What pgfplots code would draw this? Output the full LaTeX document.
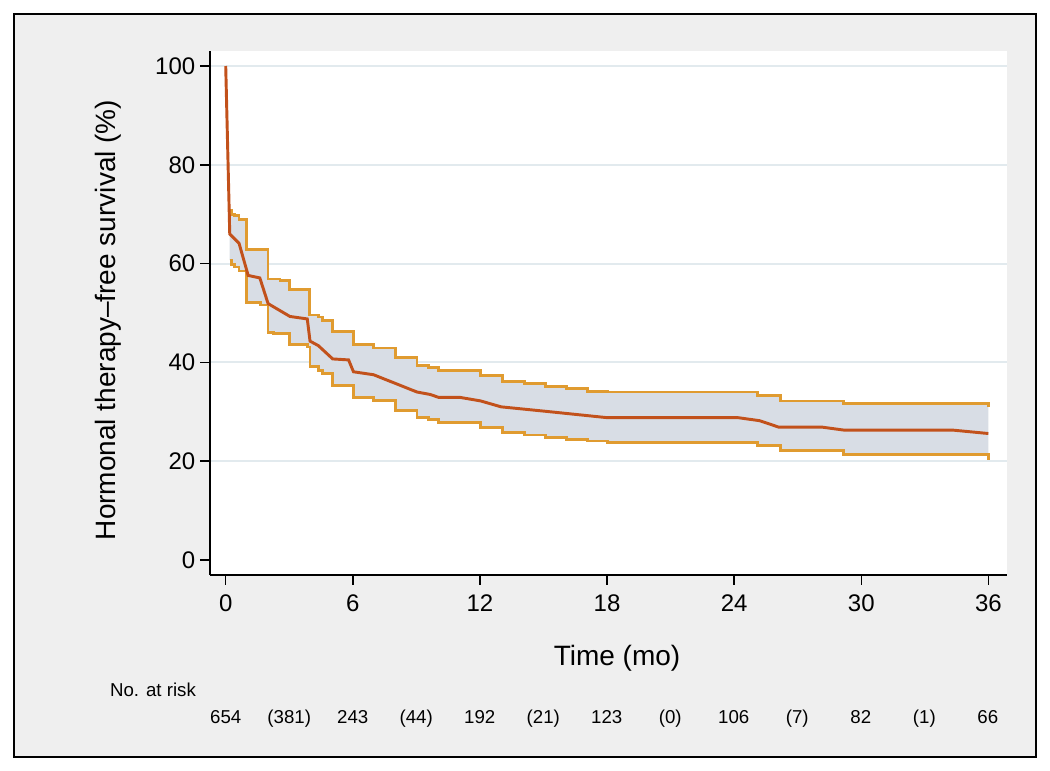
\documentclass[border=0pt]{standalone}
\usepackage{fontspec}
\setmainfont{Liberation Sans}
\usepackage{pgfplots}
\pgfplotsset{compat=1.18}
\usepgfplotslibrary{fillbetween}
\definecolor{bgGray}{HTML}{EFEFEF}
\definecolor{ciFill}{HTML}{D8DDE5}
\definecolor{ciLine}{HTML}{E09B30}
\definecolor{kmLine}{HTML}{C2511B}
\definecolor{gridC}{HTML}{E2EAEE}
\pagecolor{bgGray}
\begin{document}
\begin{tikzpicture}[x=0.75pt,y=0.75pt]
% page is 1050 x 771 px, 1 px = 0.75pt, y measured from the bottom
\path (0,0) rectangle (1050,771);
\draw[white, line width=10.5pt] (7,7) rectangle (1043,764);
\draw[black, line width=1.8pt] (14,14) rectangle (1036,757);
\begin{axis}[
  at={(157.5pt,147pt)}, anchor=south west,
  scale only axis, width=597.75pt, height=393pt,
  xmin=-0.742, xmax=36.88, ymin=-3.04, ymax=103.04,
  axis x line*=bottom, axis y line*=left,
  axis line style={line width=1.4pt, -},
  tick align=outside, major tick length=7.5pt,
  tick style={line width=1.1pt, black},
  xtick={0,6,...,36}, ytick={0,20,...,100},
  extra y ticks={20,40,60,80,100}, extra y tick labels={},
  extra y tick style={grid=major, major tick length=0pt},
  grid style={gridC, line width=1.5pt},
  axis background/.style={fill=white},
  tick label style={font=\fontsize{18}{20}\selectfont},
  xticklabel style={yshift=-4pt},
  /pgf/number format/assume math mode=true,
  clip=false,
]
% upper and lower confidence bounds
\addplot[name path=up, const plot, ciLine, line width=2.1pt] coordinates {
 (0.19,70.7) (0.27,70.0) (0.43,69.7) (0.63,69.0) (0.98,62.8) (2.0,56.9) (2.56,56.6)
 (3.0,54.7) (3.95,49.6) (4.37,49.2) (4.58,48.5) (5.05,46.2) (6.03,43.7) (6.98,42.9)
 (8.0,41.0) (9.03,39.3) (9.58,39.0) (10.06,38.3) (12.03,37.3) (13.06,36.2) (14.09,35.8)
 (15.1,35.2) (16.1,34.7) (17.09,34.1) (18.03,34.0) (25.1,33.3) (26.17,32.2) (29.17,31.7)
 (36.0,31.0)};
\addplot[name path=lo, const plot, ciLine, line width=2.1pt] coordinates {
 (0.19,60.7) (0.27,59.8) (0.43,59.3) (0.63,58.5) (0.98,52.2) (1.65,51.6) (2.0,46.1)
 (2.24,45.9) (3.0,43.7) (3.87,43.1) (3.98,39.1) (4.37,38.3) (4.58,37.7) (5.05,35.3)
 (6.03,32.9) (6.98,32.3) (8.0,30.3) (9.03,28.8) (9.58,28.5) (10.06,27.8) (12.03,26.9)
 (13.06,25.8) (14.09,25.3) (15.1,24.8) (16.1,24.4) (17.09,24.1) (18.03,23.8) (25.1,23.2)
 (26.17,22.1) (29.17,21.4) (36.0,20.3)};
\addplot[ciFill, draw=none] fill between[of=up and lo];
% survival estimate
\addplot[kmLine, line width=2.2pt] coordinates {
 (0,100) (0.19,66) (0.63,64.1) (1.06,57.6) (1.61,57.1) (2.0,51.9) (3.03,49.3) (3.85,48.8)
 (3.98,44.3) (4.37,43.4) (5.05,40.7) (5.8,40.5) (6.03,38.1) (6.98,37.5) (9.03,34.0)
 (9.66,33.5) (10.06,32.9) (11.08,32.9) (12.03,32.2) (13.0,31.0) (14.87,30.2) (18.03,28.8)
 (24.2,28.8) (25.2,28.2) (26.1,26.9) (28.14,26.9) (29.17,26.3) (34.3,26.3) (36.0,25.6)};
\end{axis}
\node[rotate=90, font=\fontsize{21}{24}\selectfont] at (108,451) {Hormonal therapy--free survival (\%)};
\node[font=\fontsize{21}{24}\selectfont] at (617,113) {Time (mo)};
\node[font=\fontsize{14}{16}\selectfont, anchor=base] at (153,74) {No. at risk};
\foreach \k/\t in {0/654, 3/{(381)}, 6/243, 9/{(44)}, 12/192, 15/{(21)}, 18/123,
  21/{(0)}, 24/106, 27/{(7)}, 30/82, 33/{(1)}, 36/66}
  \node[font=\fontsize{14}{16}\selectfont, anchor=base] at ({225.7+21.17*\k},47) {\t};
\end{tikzpicture}
\end{document}
